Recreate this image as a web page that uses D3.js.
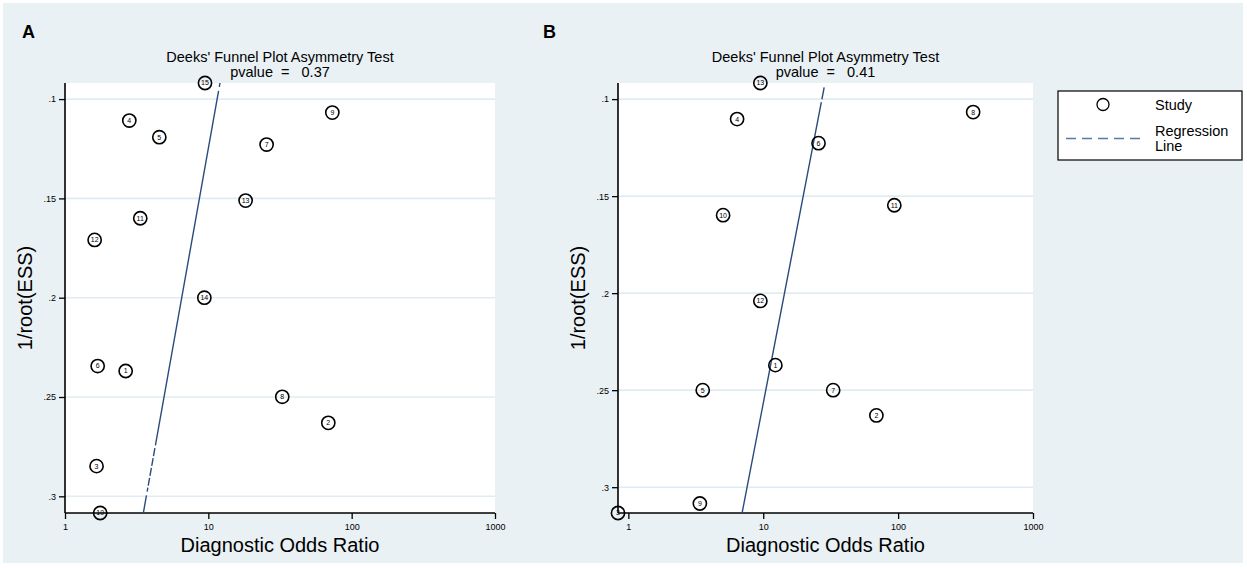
<!DOCTYPE html>
<html>
<head>
<meta charset="utf-8">
<script src="https://cdn.jsdelivr.net/npm/d3@7"></script>
<style>
  html, body { margin: 0; padding: 0; background: #ffffff; }
  svg text { font-family: "Liberation Sans", Arial, sans-serif; fill: #000; }
</style>
</head>
<body>
<div id="chart"></div>
<script>
// Deeks' funnel plots, panels A and B

// Panel A data (study number, diagnostic odds ratio, 1/root(ESS))
const studyA = [1, 2, 3, 4, 5, 6, 7, 8, 9, 10, 11, 12, 13, 14, 15];
const dorA = [2.65, 68.7, 1.66, 2.81, 4.55, 1.69, 25.5, 32.8, 73.3, 1.76, 3.35, 1.61, 18.2, 9.38, 9.48];
const essA = [0.2369, 0.263, 0.2848, 0.1108, 0.1192, 0.2344, 0.1229, 0.2499, 0.1068, 0.3084, 0.160, 0.1709, 0.1511, 0.200, 0.0919];
const regA = [[0.0919, 12.06], [0.3084, 3.52]];
const pvalueA = '0.37';

// Panel B data
const studyB = [1, 2, 3, 4, 5, 6, 7, 8, 9, 10, 11, 12, 13];
const dorB = [12.3, 69.0, 0.838, 6.40, 3.56, 25.7, 33.0, 360, 3.39, 5.04, 93.7, 9.52, 9.52];
const essB = [0.2371, 0.263, 0.3133, 0.1103, 0.250, 0.1227, 0.250, 0.1067, 0.3084, 0.1598, 0.1547, 0.204, 0.0917];
const regB = [[0.094, 28.3], [0.3133, 6.97]];
const pvalueB = '0.41';

// Axis ticks
const xTicks = [1, 10, 100, 1000];
const yTicks = [0.1, 0.15, 0.2, 0.25, 0.3];
const yTickLabels = ['.1', '.15', '.2', '.25', '.3'];

const W = 1247, H = 568;
const svg = d3.select('#chart').append('svg')
    .attr('width', W)
    .attr('height', H);

// light background frame
svg.append('rect')
    .attr('x', 3).attr('y', 3)
    .attr('width', 1240).attr('height', 560)
    .attr('fill', '#e9f1f4');

const lineColor = '#2a4b7c';

function drawPanel(cfg) {
    const x = d3.scaleLog()
        .domain([Math.min(1, d3.min(cfg.dor)), 1000])
        .range([cfg.left, cfg.right]);
    const y = d3.scaleLinear()
        .domain(d3.extent(cfg.ess))
        .range([83, 513]);

    const g = svg.append('g');

    // plot region
    g.append('rect')
        .attr('x', cfg.left).attr('y', 83)
        .attr('width', cfg.right - cfg.left).attr('height', 430)
        .attr('fill', '#ffffff');

    // grid lines
    g.selectAll('.grid')
        .data(yTicks)
        .enter()
        .append('line')
        .attr('x1', cfg.left).attr('x2', cfg.right)
        .attr('y1', d => y(d)).attr('y2', d => y(d))
        .attr('stroke', '#e0ecf1')
        .attr('stroke-width', 1.6);

    // y axis
    const yAxis = g.append('g')
        .attr('transform', `translate(${cfg.left},0)`)
        .call(d3.axisLeft(y).tickValues(yTicks).tickSize(6).tickPadding(3)
            .tickFormat((d, i) => yTickLabels[i]));
    yAxis.select('.domain').attr('stroke-width', 1.6).attr('d', `M0,83V513`);
    yAxis.selectAll('.tick line').attr('stroke-width', 1.3);
    yAxis.selectAll('.tick text').style('font-size', '9px');

    // x axis
    const xAxis = g.append('g')
        .attr('transform', 'translate(0,513)')
        .call(d3.axisBottom(x).tickValues(xTicks).tickSize(6).tickPadding(5)
            .tickFormat(d3.format('d')));
    xAxis.select('.domain').attr('stroke-width', 1.6).attr('d', `M${cfg.left},0H${cfg.right}`);
    xAxis.selectAll('.tick line').attr('stroke-width', 1.3);
    xAxis.selectAll('.tick text').style('font-size', '9px');

    // regression line
    g.append('path')
        .datum(cfg.reg)
        .attr('d', d3.line().x(d => x(d[1])).y(d => y(d[0])))
        .attr('fill', 'none')
        .attr('stroke', lineColor)
        .attr('stroke-width', 1.4)
        .attr('stroke-dasharray', cfg.dash);

    // studies
    const pts = g.selectAll('.pt')
        .data(cfg.study.map((s, i) => ({ s: s, dor: cfg.dor[i], ess: cfg.ess[i] })))
        .enter()
        .append('g')
        .attr('transform', d => `translate(${x(d.dor)},${y(d.ess)})`);
    pts.append('circle')
        .attr('r', 6.6)
        .attr('fill', 'none')
        .attr('stroke', '#000')
        .attr('stroke-width', 1.6);
    pts.append('text')
        .attr('text-anchor', 'middle')
        .attr('dy', '0.35em')
        .style('font-size', '7px')
        .text(d => d.s);

    // titles
    const cx = (cfg.left + cfg.right) / 2;
    g.append('text')
        .attr('x', cx).attr('y', 62)
        .attr('text-anchor', 'middle')
        .style('font-size', '14.5px')
        .text("Deeks' Funnel Plot Asymmetry Test");
    g.append('text')
        .attr('x', cx).attr('y', 77)
        .attr('text-anchor', 'middle')
        .style('font-size', '14.5px')
        .style('white-space', 'pre')
        .text('pvalue  =   ' + cfg.pvalue);

    g.append('text')
        .attr('x', cx).attr('y', 552)
        .attr('text-anchor', 'middle')
        .style('font-size', '20px')
        .text('Diagnostic Odds Ratio');

    g.append('text')
        .attr('transform', `translate(${cfg.ytitleX},298) rotate(-90)`)
        .attr('text-anchor', 'middle')
        .style('font-size', '20px')
        .text('1/root(ESS)');

    g.append('text')
        .attr('x', cfg.labelX).attr('y', 38)
        .style('font-size', '18px')
        .style('font-weight', 'bold')
        .text(cfg.label);
}

drawPanel({ label: 'A', labelX: 22, left: 65, right: 495, ytitleX: 32, dash: '4,4,360,3,8,2,8,2,8,2,8,2',
    study: studyA, dor: dorA, ess: essA, reg: regA, pvalue: pvalueA });
drawPanel({ label: 'B', labelX: 543, left: 618, right: 1033, ytitleX: 585, dash: '12,3,500',
    study: studyB, dor: dorB, ess: essB, reg: regB, pvalue: pvalueB });

// legend
const lg = svg.append('g');
lg.append('rect')
    .attr('x', 1058).attr('y', 91)
    .attr('width', 184).attr('height', 69)
    .attr('fill', '#ffffff')
    .attr('stroke', '#000')
    .attr('stroke-width', 1.2);
lg.append('circle')
    .attr('cx', 1103).attr('cy', 104.5)
    .attr('r', 6)
    .attr('fill', 'none')
    .attr('stroke', '#000')
    .attr('stroke-width', 1.3);
lg.append('text')
    .attr('x', 1155).attr('y', 110)
    .style('font-size', '14.5px')
    .text('Study');
lg.append('line')
    .attr('x1', 1066).attr('x2', 1140)
    .attr('y1', 138.5).attr('y2', 138.5)
    .attr('stroke', '#5b7aa0')
    .attr('stroke-width', 1.4)
    .attr('stroke-dasharray', '10,6');
lg.append('text')
    .attr('x', 1155).attr('y', 136)
    .style('font-size', '14.5px')
    .text('Regression');
lg.append('text')
    .attr('x', 1155).attr('y', 151)
    .style('font-size', '14.5px')
    .text('Line');
</script>
</body>
</html>
